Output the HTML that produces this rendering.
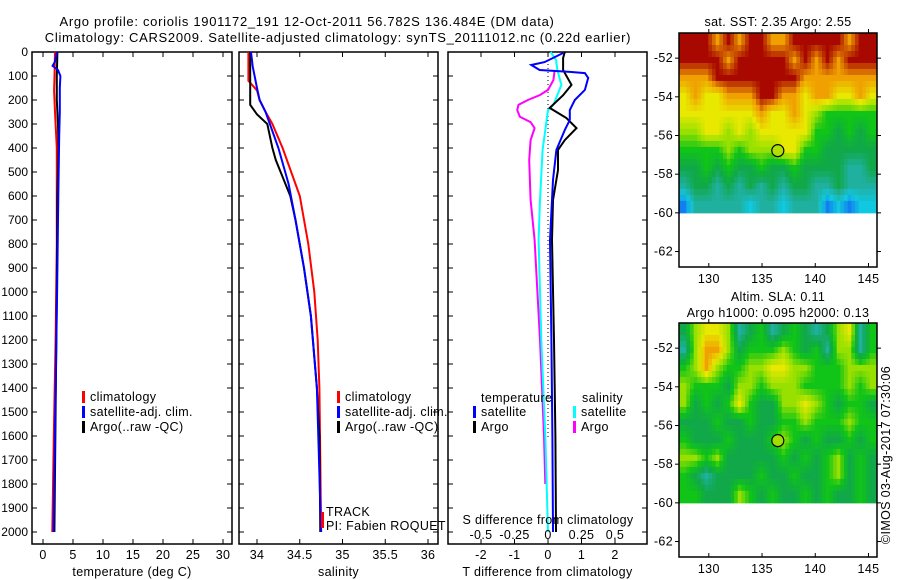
<!DOCTYPE html>
<html><head><meta charset="utf-8"><style>
body{margin:0;background:#fff;}
svg{display:block;font-family:"Liberation Sans",sans-serif;}
text{font-size:12.5px;letter-spacing:0.35px;fill:#000;}
text.ttl{font-size:13px;letter-spacing:0.7px;}
text.dl{font-size:12px;letter-spacing:0;}
</style></head><body>
<svg id="c" width="900" height="580" viewBox="0 0 900 580">
<text class="ttl" x="307" y="26" text-anchor="middle">Argo profile: coriolis 1901172_191 12-Oct-2011 56.782S 136.484E (DM data)</text>
<text class="ttl" x="338" y="42" text-anchor="middle">Climatology: CARS2009. Satellite-adjusted climatology: synTS_20111012.nc (0.22d earlier)</text>
<text x="778" y="26" text-anchor="middle">sat. SST: 2.35 Argo: 2.55</text>
<text x="778" y="301" text-anchor="middle">Altim. SLA: 0.11</text>
<text x="778" y="317" text-anchor="middle">Argo h1000: 0.095 h2000: 0.13</text>
<text transform="translate(890,455) rotate(-90)" text-anchor="middle">©IMOS 03-Aug-2017 07:30:06</text>
</svg>
<script>
// ---- data ----
const depthTicks=[0,100,200,300,400,500,600,700,800,900,1000,1100,1200,1300,1400,1500,1600,1700,1800,1900,2000];
const tTicks=[0,5,10,15,20,25,30];
const sTicks=[34,34.5,35,35.5,36];
const tdTicks=[-2,-1,0,1,2];
const sdTicks=[-0.5,-0.25,0,0.25,0.5];
const sdTickLabels=["-0.5","-0.25","0","0.25","0.5"];
const tempClimDepth=[0,120,160,250,400,800,1200,1600,2000];
const tempClim=[2.0,1.9,1.85,2.0,2.3,2.3,2.1,1.8,1.55];
const tempArgoDepth=[0,100,200,300,400,600,1000,1500,2000];
const tempArgo=[2.4,2.3,2.3,2.5,2.6,2.4,2.3,2.1,1.9];
const tempSatDepth=[0,40,58,75,100,150,250,350,600,1000,1500,2000];
const tempSat=[2.3,2.0,1.6,2.5,2.9,2.8,2.8,2.7,2.55,2.35,2.05,1.75];
const salClimDepth=[0,120,160,200,250,300,400,600,800,1000,1200,1400,1700,2000];
const salClim=[33.9,33.9,34.0,34.03,34.1,34.18,34.3,34.5,34.6,34.67,34.71,34.73,34.74,34.75];
const salArgoDepth=[0,220,260,300,400,450,600,700,900,1100,1400,1600,2000];
const salArgo=[33.92,33.92,34.0,34.12,34.18,34.22,34.39,34.45,34.55,34.63,34.7,34.73,34.74];
const salSatDepth=[0,60,150,200,250,400,550,700,900,1100,1400,2000];
const salSat=[33.93,33.95,34.0,34.03,34.1,34.25,34.37,34.45,34.55,34.63,34.7,34.75];
const tdArgoDepth=[0,25,75,137,180,233,275,317,367,408,492,617,783,1200,1600,2000];
const tdArgo=[0.5,0.45,0.45,0.7,0.45,0.05,0.55,0.85,0.5,0.3,0.3,0.15,0.12,0.18,0.22,0.24];
const tdSatDepth=[4,42,54,75,83,88,108,158,200,242,283,325,408,533,617,783,1200,1600,2000];
const tdSat=[0.45,-0.1,-0.5,-0.25,0.65,1.1,1.2,1.1,0.8,0.65,0.65,0.5,0.25,0.15,0.12,0.06,0.1,0.13,0.15];
const sdSatDepth=[0,33,75,117,137,179,220,242,325,408,617,783,1200,1600,2000];
const sdSat=[0.02,0.06,0.07,0.09,0.1,0.07,0.04,0,-0.02,-0.04,-0.06,-0.07,-0.05,-0.02,0];
const sdArgoDepth=[75,117,158,179,200,220,242,270,292,317,367,450,617,783,1200,1600,1800];
const sdArgo=[0.05,0.04,0,-0.06,-0.15,-0.22,-0.23,-0.21,-0.13,-0.1,-0.13,-0.14,-0.13,-0.1,-0.06,-0.03,-0.02];
const lonTicks=[130,135,140,145];
const latTicks=[-52,-54,-56,-58,-60,-62];
const sstGrid=[
"999898998899999899","999989999989898999","888999999998888888","787788899887887787",
"777777787787655555","667767677777554545","555565666775544444","445454454454444334",
"344343434344334333","133333233233312122"];
const slaGrid=[
"467763453454346735","368864555654536635","568655667766555666","655546656665555656",
"645457544667654554","444544544556555655","544454445654544545","665644444545456454",
"543444454454456454","554446545445454454"];
const argoLon=136.484, argoLat=-56.782;

const NS="http://www.w3.org/2000/svg";
const svg=document.getElementById('c');
function el(tag,attrs,parent){const e=document.createElementNS(NS,tag);for(const k in attrs)e.setAttribute(k,attrs[k]);(parent||svg).appendChild(e);return e;}
function txt(x,y,s,anchor,parent){const t=el('text',{x:x,y:y,'text-anchor':anchor||'start'},parent);t.textContent=s;return t;}

const PT=52,PB=544;
const yD=d=>PT+(d/2050)*(PB-PT);
function lin(d0,d1,r0,r1){return v=>r0+(v-d0)/(d1-d0)*(r1-r0);}

function panel(name,x0,x1,xs,ticks,labels,xtitle,showY){
  const g=el('g',{});
  
  
  const r=el('rect',{x:x0,y:PT,width:x1-x0,height:PB-PT,fill:'none',stroke:'#000','stroke-width':1.5},g);
  
  
  depthTicks.forEach(d=>{
    el('line',{x1:x0,x2:x0+5,y1:yD(d),y2:yD(d),stroke:'#000'},g);
    el('line',{x1:x1-5,x2:x1,y1:yD(d),y2:yD(d),stroke:'#000'},g);
    if(showY){const t=txt(x0-4,yD(d)+4,String(d),'end',g);
      t.setAttribute('class','dl');
      
      }
  });
  if(ticks) ticks.forEach((v,i)=>{
    el('line',{x1:xs(v),x2:xs(v),y1:PB,y2:PB-5,stroke:'#000'},g);
    el('line',{x1:xs(v),x2:xs(v),y1:PT,y2:PT+5,stroke:'#000'},g);
    const t=txt(xs(v),PB+15,labels[i],'middle',g);
    
    
  });
  const xt=txt((x0+x1)/2,PB+32,xtitle,'middle',g);
  
  
  return g;
}
function line(name,depths,vals,xs,color,w){
  const pts=depths.map((d,i)=>xs(vals[i]).toFixed(1)+','+yD(d).toFixed(1)).join(' ');
  const p=el('polyline',{points:pts,fill:'none',stroke:color,'stroke-width':w||2});
  
  
}
function legend(x,y,color,label){
  el('rect',{x:x,y:y-10,width:3,height:12,fill:color});
  const t=txt(x+8,y,label);
  
  
}

// temperature panel
const xT=lin(0,30,43,223);
panel('temperature-panel',32,232,xT,tTicks,tTicks.map(String),'temperature (deg C)',true);
line('temp-climatology-line',tempClimDepth,tempClim,xT,'#f00');
line('temp-argo-line',tempArgoDepth,tempArgo,xT,'#000');
line('temp-satellite-line',tempSatDepth,tempSat,xT,'#00f');
legend(82,401,'#f00','climatology');legend(82,416,'#00f','satellite-adj. clim.');legend(82,431,'#000','Argo(..raw -QC)');

// salinity panel
const xS=lin(34,36,257,428);
panel('salinity-panel',239,438,xS,sTicks,["34","34.5","35","35.5","36"],'salinity',false);
line('sal-climatology-line',salClimDepth,salClim,xS,'#f00');
line('sal-argo-line',salArgoDepth,salArgo,xS,'#000');
line('sal-satellite-line',salSatDepth,salSat,xS,'#00f');
legend(337,401,'#f00','climatology');legend(337,416,'#00f','satellite-adj. clim.');legend(337,431,'#000','Argo(..raw -QC)');
el('rect',{x:321,y:512,width:3,height:16,fill:'#f00'});
txt(326,516,'TRACK');txt(326,530,'PI: Fabien ROQUET');

// difference panel
const xTD=lin(0,2,548,615);
const xSD=lin(0,0.5,548,615);
panel('difference-panel',448,647,xTD,tdTicks,tdTicks.map(String),'T difference from climatology',false);
el('line',{x1:548,x2:548,y1:PT,y2:440,stroke:'#000','stroke-dasharray':'1,3'});
line('sdiff-argo-line',sdArgoDepth,sdArgo,xSD,'#f0f');
line('sdiff-satellite-line',sdSatDepth,sdSat,xSD,'#0ff');
line('tdiff-argo-line',tdArgoDepth,tdArgo,xTD,'#000');
line('tdiff-satellite-line',tdSatDepth,tdSat,xTD,'#00f');
txt(481,402,'temperature');txt(582,402,'salinity');
legend(473,416,'#00f','satellite');legend(473,431,'#000','Argo');
legend(573,416,'#0ff','satellite');legend(573,431,'#f0f','Argo');
txt(548,524,'S difference from climatology','middle');
sdTicks.forEach((v,i)=>{const t=txt(xSD(v),539,sdTickLabels[i],'middle');
  
  });

// maps
const stops=[[0,[16,64,255]],[1,[16,128,240]],[2,[16,200,224]],[3,[32,176,160]],[4,[16,168,72]],[5,[16,196,24]],[6,[152,224,0]],[7,[232,232,0]],[8,[240,160,0]],[9,[168,8,0]]];
function colorOf(v){
  v=Math.max(0,Math.min(9,v));
  const i=Math.min(8,Math.floor(v)),f=v-i;
  const a=stops[i][1],b=stops[i+1][1];
  return 'rgb('+a.map((c,k)=>Math.round(c+(b[k]-c)*f)).join(',')+')';
}
function map(name,top,grid,mfill){
  const X0=679,X1=877,Y0=top,Y1=top+234;
  const xL=lin(127.2,145.8,X0,X1), yL=lin(-50.7,-62.8,Y0,Y1);
  const g=el('g',{});
  
  
  const rows=grid.length,cols=grid[0].length;
  const val=(r,c)=>+grid[Math.max(0,Math.min(rows-1,r))][Math.max(0,Math.min(cols-1,c))];
  const S=3;
  const cw=(X1-X0)/(cols*S), ch=(yL(-60)-Y0)/(rows*S);
  for(let r=0;r<rows*S;r++){for(let c=0;c<cols*S;c++){
    const fr=(r+0.5)/S-0.5, fc=(c+0.5)/S-0.5;
    const r0=Math.floor(fr),c0=Math.floor(fc),dr=fr-r0,dc=fc-c0;
    const v=val(r0,c0)*(1-dr)*(1-dc)+val(r0,c0+1)*(1-dr)*dc+val(r0+1,c0)*dr*(1-dc)+val(r0+1,c0+1)*dr*dc;
    const cell=el('rect',{x:(X0+c*cw).toFixed(2),y:(Y0+r*ch).toFixed(2),width:(cw+0.5).toFixed(2),height:(ch+0.5).toFixed(2),fill:colorOf(v)},g);
    
    
  }}
  el('rect',{x:X0,y:Y0,width:X1-X0,height:Y1-Y0,fill:'none',stroke:'#000','stroke-width':1.5},g);
  lonTicks.forEach(v=>{
    el('line',{x1:xL(v),x2:xL(v),y1:Y1,y2:Y1-4,stroke:'#000'},g);
    el('line',{x1:xL(v),x2:xL(v),y1:Y0,y2:Y0-4,stroke:'#000'},g);
    const t=txt(xL(v),Y1+16,String(v),'middle',g);
    
    
  });
  latTicks.forEach(v=>{
    el('line',{x1:X0-4,x2:X0,y1:yL(v),y2:yL(v),stroke:'#000'},g);
    el('line',{x1:X1,x2:X1+4,y1:yL(v),y2:yL(v),stroke:'#000'},g);
    const t=txt(X0-6,yL(v)+4,String(v),'end',g);
    
    
  });
  const m=el('circle',{cx:xL(argoLon),cy:yL(argoLat),r:6,fill:mfill,stroke:'#000','stroke-width':1.2},g);
  
  
}
map('sst-map',33,sstGrid,'#b0e000');
map('sla-map',323,slaGrid,'#a0e000');
</script>
</body></html>
